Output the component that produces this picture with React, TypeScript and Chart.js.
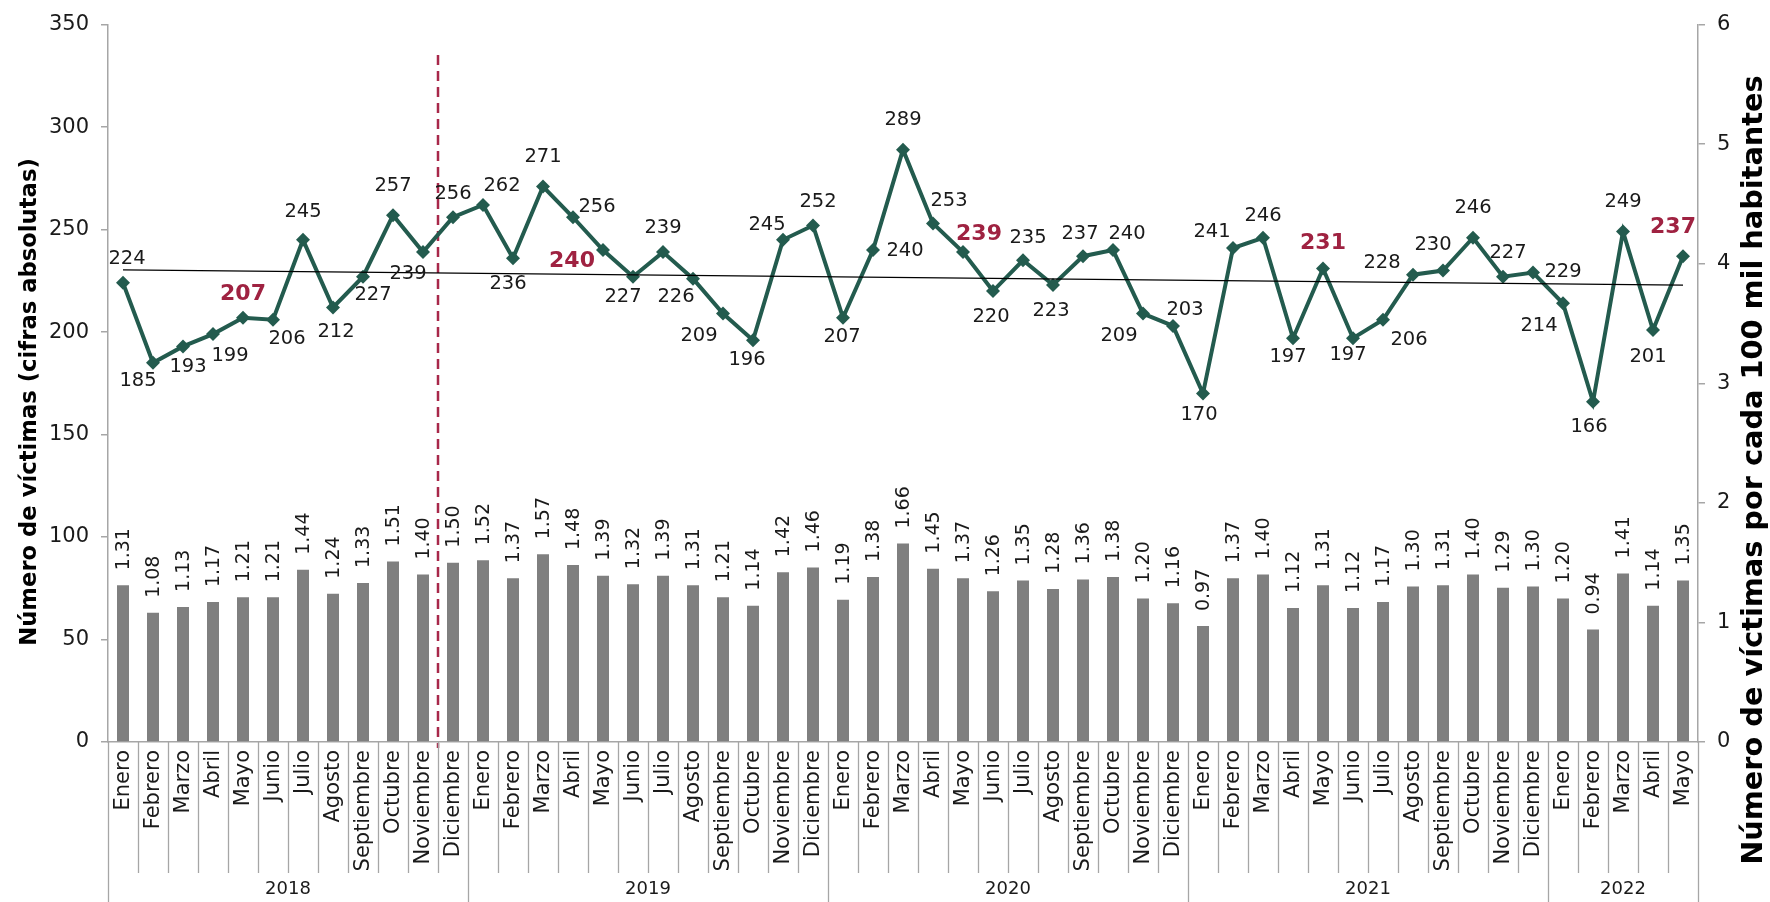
import React, { useEffect, useRef } from 'react';
import { Chart, registerables } from 'chart.js';

Chart.register(...registerables);

// ---------- DATA ----------
const YEARS = ['2018', '2019', '2020', '2021', '2022'];
const MONTHS_IN_YEAR = [12, 12, 12, 12, 5];
const MONTH_NAMES = ['Enero', 'Febrero', 'Marzo', 'Abril', 'Mayo', 'Junio', 'Julio', 'Agosto', 'Septiembre', 'Octubre', 'Noviembre', 'Diciembre'];
const CATEGORIES: string[] = YEARS.flatMap((y, k) => MONTH_NAMES.slice(0, MONTHS_IN_YEAR[k]).map((m) => `${m} ${y}`));

// Número de víctimas (cifras absolutas)
const VICTIMS = [
  224, 185, 193, 199, 207, 206, 245, 212, 227, 257, 239, 256,
  262, 236, 271, 256, 240, 227, 239, 226, 209, 196, 245, 252,
  207, 240, 289, 253, 239, 220, 235, 223, 237, 240, 209, 203,
  170, 241, 246, 197, 231, 197, 206, 228, 230, 246, 227, 229,
  214, 166, 249, 201, 237,
];

// Número de víctimas por cada 100 mil habitantes
const RATE = [
  1.31, 1.08, 1.13, 1.17, 1.21, 1.21, 1.44, 1.24, 1.33, 1.51, 1.40, 1.50,
  1.52, 1.37, 1.57, 1.48, 1.39, 1.32, 1.39, 1.31, 1.21, 1.14, 1.42, 1.46,
  1.19, 1.38, 1.66, 1.45, 1.37, 1.26, 1.35, 1.28, 1.36, 1.38, 1.20, 1.16,
  0.97, 1.37, 1.40, 1.12, 1.31, 1.12, 1.17, 1.30, 1.31, 1.40, 1.29, 1.30,
  1.20, 0.94, 1.41, 1.14, 1.35,
];

// Linear trend (start and end values)
const TREND_START = 230.3;
const TREND_END = 222.9;

// Highlighted (red) labels: every May
const HIGHLIGHT = [4, 16, 28, 40, 52];

// Left / right axis ticks
const LEFT_MAX = 350;
const LEFT_STEP = 50;
const RIGHT_MAX = 6;
const RIGHT_STEP = 1;

// Index after which the red dashed separator is drawn (between Nov and Dic 2018)
const DIVIDER_AFTER = 10;

// ---------- LABEL PLACEMENT (offsets from each point, px) ----------
const LABEL_OFFSETS: [number, number][] = [
  [4, -24], [-15, 18], [5, 21], [17, 22], [0, -23], [14, 19], [0, -28], [3, 24], [10, 18], [0, -29], [-15, 22], [0, -23],
  [19, -19], [-5, 26], [0, -30], [24, -10], [-31, 11], [-10, 20], [0, -24], [-17, 18], [-24, 22], [-6, 20], [-16, -15], [5, -24],
  [-1, 19], [32, 1], [0, -30], [16, -22], [16, -18], [-2, 26], [5, -22], [-2, 26], [-3, -22], [14, -16], [-24, 22], [12, -16],
  [-4, 21], [-21, -16], [0, -22], [-5, 19], [0, -25], [-5, 17], [26, 20], [-31, -12], [-10, -26], [0, -30], [5, -24], [30, -1],
  [-24, 23], [-4, 25], [0, -30], [-5, 27], [-10, -29],
];

const FAM = "'DejaVu Sans', sans-serif";
const TEXT = '#1a1a1a';
const GREEN = '#235B4E';
const RED = '#9F2241';
const GRAY_BAR = '#7F7F7F';
const AXIS = '#A6A6A6';

const labelsPlugin = {
  id: 'customLabels',
  beforeDatasetsDraw(chart: any) {
    const { ctx, chartArea, scales } = chart;
    const xs = scales.x;
    const xDiv = (xs.getPixelForValue(DIVIDER_AFTER) + xs.getPixelForValue(DIVIDER_AFTER + 1)) / 2;
    ctx.save();
    ctx.strokeStyle = '#A8284A';
    ctx.lineWidth = 2.5;
    ctx.setLineDash([10, 6]);
    ctx.beginPath();
    ctx.moveTo(xDiv, 55);
    ctx.lineTo(xDiv, chartArea.bottom + 6);
    ctx.stroke();
    ctx.restore();
  },
  afterDatasetsDraw(chart: any) {
    const { ctx } = chart;
    // bar labels
    const barMeta = chart.getDatasetMeta(2);
    ctx.save();
    ctx.fillStyle = TEXT;
    ctx.font = `19px ${FAM}`;
    ctx.textAlign = 'left';
    ctx.textBaseline = 'middle';
    barMeta.data.forEach((el: any, i: number) => {
      ctx.save();
      ctx.translate(el.x + 1, el.y - 15);
      ctx.rotate(-Math.PI / 2);
      ctx.fillText(RATE[i].toFixed(2), 0, 0);
      ctx.restore();
    });
    // line labels
    const lineMeta = chart.getDatasetMeta(1);
    ctx.textAlign = 'center';
    lineMeta.data.forEach((el: any, i: number) => {
      const [dx, dy] = LABEL_OFFSETS[i];
      if (HIGHLIGHT.includes(i)) {
        ctx.font = `bold 22px ${FAM}`;
        ctx.fillStyle = RED;
      } else {
        ctx.font = `19.5px ${FAM}`;
        ctx.fillStyle = TEXT;
      }
      ctx.fillText(String(VICTIMS[i]), el.x + dx, el.y + dy);
    });
    ctx.restore();
  },
  afterDraw(chart: any) {
    const { ctx, chartArea, scales } = chart;
    const xs = scales.x;
    const bottom = chartArea.bottom;
    const H = chart.height;
    const monthSepEnd = 873;
    const n = CATEGORIES.length;
    const step = xs.getPixelForValue(1) - xs.getPixelForValue(0);
    ctx.save();
    // separators
    ctx.strokeStyle = AXIS;
    ctx.lineWidth = 1.3;
    const yearStarts: number[] = [];
    let acc = 0;
    MONTHS_IN_YEAR.forEach((c) => { yearStarts.push(acc); acc += c; });
    for (let i = 0; i <= n; i++) {
      const x = Math.round(xs.getPixelForValue(0) - step / 2 + i * step) + 0.5;
      const isYear = i === n || yearStarts.includes(i);
      ctx.beginPath();
      ctx.moveTo(x, bottom);
      ctx.lineTo(x, isYear ? H : monthSepEnd);
      ctx.stroke();
    }
    // month labels
    ctx.fillStyle = TEXT;
    ctx.font = `21px ${FAM}`;
    ctx.textAlign = 'right';
    ctx.textBaseline = 'middle';
    CATEGORIES.forEach((c, i) => {
      const x = xs.getPixelForValue(i);
      ctx.save();
      ctx.translate(x + 1, bottom + 8);
      ctx.rotate(-Math.PI / 2);
      ctx.fillText(c.split(' ')[0], 0, 0);
      ctx.restore();
    });
    // year labels
    ctx.textAlign = 'center';
    ctx.font = `18px ${FAM}`;
    YEARS.forEach((y, k) => {
      const s = yearStarts[k];
      const e = s + MONTHS_IN_YEAR[k] - 1;
      const x = (xs.getPixelForValue(s) + xs.getPixelForValue(e)) / 2;
      ctx.fillText(y, x, 889);
    });
    // axis titles
    const fit = (text: string, target: number) => {
      ctx.font = `bold 20px ${FAM}`;
      const w = ctx.measureText(text).width;
      return (20 * target) / w;
    };
    const leftTitle = 'Número de víctimas (cifras absolutas)';
    const rightTitle = 'Número de víctimas por cada 100 mil habitantes';
    const ls = fit(leftTitle, 488);
    ctx.font = `bold ${ls}px ${FAM}`;
    ctx.fillStyle = '#000';
    ctx.save();
    ctx.translate(30, 402);
    ctx.rotate(-Math.PI / 2);
    ctx.fillText(leftTitle, 0, 0);
    ctx.restore();
    const rs = fit(rightTitle, 790);
    ctx.font = `bold ${rs}px ${FAM}`;
    ctx.save();
    ctx.translate(1755, 470);
    ctx.rotate(-Math.PI / 2);
    ctx.fillText(rightTitle, 0, 0);
    ctx.restore();
    ctx.restore();
  },
};

export default function App() {
  const ref = useRef<HTMLCanvasElement | null>(null);
  useEffect(() => {
    if (!ref.current) return;
    const last = VICTIMS.length - 1;
    const trend = VICTIMS.map((_, i) => (i === 0 ? TREND_START : i === last ? TREND_END : null));
    const chart = new Chart(ref.current, {
      type: 'bar',
      data: {
        labels: CATEGORIES,
        datasets: [
          {
            type: 'line',
            label: 'Tendencia',
            data: trend as any,
            yAxisID: 'y',
            borderColor: '#000',
            borderWidth: 1.3,
            pointRadius: 0,
            spanGaps: true,
            order: 0,
          } as any,
          {
            type: 'line',
            label: 'Víctimas',
            data: VICTIMS,
            yAxisID: 'y',
            borderColor: GREEN,
            borderWidth: 4,
            pointStyle: 'rectRot',
            pointRadius: 7,
            pointBackgroundColor: GREEN,
            pointBorderColor: GREEN,
            pointBorderWidth: 0,
            tension: 0,
            order: 1,
          } as any,
          {
            type: 'bar',
            label: 'Tasa',
            data: RATE,
            yAxisID: 'y1',
            backgroundColor: GRAY_BAR,
            barPercentage: 0.4,
            categoryPercentage: 1,
            order: 2,
          } as any,
        ],
      },
      options: {
        responsive: false,
        maintainAspectRatio: false,
        animation: false,
        layout: { padding: { top: 17, left: 0, right: 0, bottom: 0 } },
        plugins: { legend: { display: false }, tooltip: { enabled: false } },
        scales: {
          x: {
            offset: true,
            ticks: { display: false },
            grid: { display: false },
            border: { display: true, color: AXIS, width: 1.5 },
            afterFit: (s: any) => { s.height = 160; },
          },
          y: {
            position: 'left',
            min: 0,
            max: LEFT_MAX,
            ticks: { stepSize: LEFT_STEP, color: TEXT, padding: 12, font: { family: FAM, size: 21 } },
            grid: { drawOnChartArea: false, drawTicks: true, tickLength: 7, color: AXIS, lineWidth: 1.5 },
            border: { display: true, color: AXIS, width: 1.5 },
            afterFit: (s: any) => { s.width = 108; },
          },
          y1: {
            position: 'right',
            min: 0,
            max: RIGHT_MAX,
            ticks: { stepSize: RIGHT_STEP, color: TEXT, padding: 12, font: { family: FAM, size: 21 } },
            grid: { drawOnChartArea: false, drawTicks: true, tickLength: 7, color: AXIS, lineWidth: 1.5 },
            border: { display: true, color: AXIS, width: 1.5 },
            afterFit: (s: any) => { s.width = 72; },
          },
        },
      } as any,
      plugins: [labelsPlugin],
    });
    return () => chart.destroy();
  }, []);
  return (
    <div style={{ position: 'fixed', left: 0, top: 0, width: 1770, height: 902, background: '#fff' }}>
      <canvas ref={ref} width={1770} height={902} style={{ width: 1770, height: 902, display: 'block' }} />
    </div>
  );
}
